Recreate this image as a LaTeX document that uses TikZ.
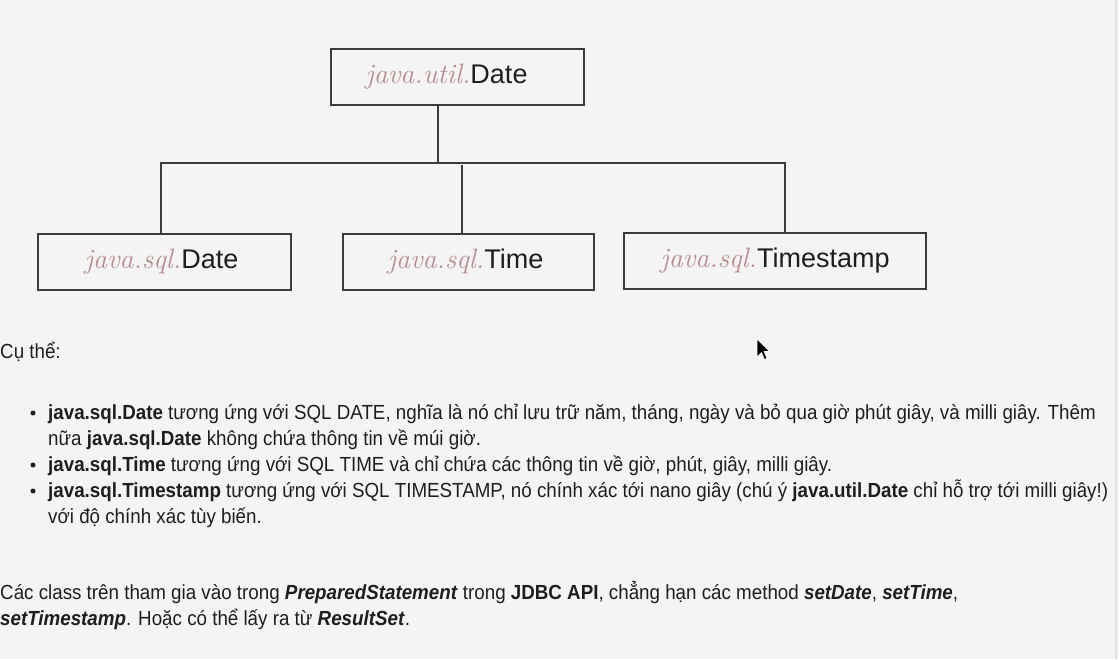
\documentclass[tikz,border=0pt]{standalone}
\usepackage{fontspec}
\newfontfamily\helv{Liberation Sans}[FakeStretch=0.92]
\newfontfamily\lab{Liberation Sans}
\definecolor{bg}{HTML}{F4F4F4}
\definecolor{boxline}{HTML}{3C3C3C}
\definecolor{pref}{HTML}{B88C90}
\definecolor{txt}{HTML}{1E1E1E}
\begin{document}
\begin{tikzpicture}[x=1pt,y=-1pt,
  clsbox/.style={draw=boxline,line width=1.3pt,fill=bg,minimum height=56pt,inner sep=0pt},
  conn/.style={draw=boxline,line width=1.3pt},
  bodytext/.style={anchor=base west,inner sep=0pt,text=txt,font=\helv\fontsize{20.4}{24}\selectfont},
  dot/.style={circle,fill=txt,inner sep=0pt,minimum size=5pt}]
\fill[bg] (0,0) rectangle (1119,659);
\useasboundingbox (0,0) rectangle (1119,659);
\draw[color=black!12,line width=2pt] (1116,0) -- (1116,659);
\newcommand{\cls}[2]{{\fontsize{28}{30}\selectfont\itshape\color{pref}#1}{\lab\fontsize{27}{30}\selectfont\color{txt}#2}}
% boxes
\node[clsbox,minimum width=253pt] (top) at (457.5,77) {\cls{java.util.}{Date}\hspace*{22pt}};
\node[clsbox,minimum width=253pt] (a) at (164.5,262) {\hspace*{0pt}\cls{java.sql.}{Date}\hspace*{6pt}};
\node[clsbox,minimum width=251pt] (b) at (468.5,262) {\cls{java.sql.}{Time}\hspace*{6pt}};
\node[clsbox,minimum width=302pt] (c) at (775,261) {\cls{java.sql.}{Timestamp}};
% connectors
\coordinate (j) at (438,163);
\coordinate (l) at (161,163);
\coordinate (r) at (785,163);
\coordinate (m) at (462,165);
\draw[conn] (top.south -| j) -- (j);
\draw[conn] (a.north -| l) -- (l) -- (r) -- (c.north -| r);
\draw[conn] (m) -- (b.north -| m);
% cursor
\filldraw[fill=black,draw=white,line width=0.6pt] (757,339) -- (757,357) -- (761.5,352.5) -- (764.5,359.5) -- (767,358.5) -- (764,351.5) -- (769.5,351.5) -- cycle;
% text
\node[bodytext] (t0) at (0,358) {Cụ thể:};
\node[dot] (d1) at (33,413) {};
\node[bodytext] (t1) at (48,419) {\textbf{java.sql.Date} tương ứng với SQL DATE, nghĩa là nó chỉ lưu trữ năm, tháng, ngày và bỏ qua giờ phút giây, và milli giây. Thêm};
\node[bodytext] (t2) at (48,445) {nữa \textbf{java.sql.Date} không chứa thông tin về múi giờ.};
\node[dot] (d2) at (33,465) {};
\node[bodytext] (t3) at (48,471) {\textbf{java.sql.Time} tương ứng với SQL TIME và chỉ chứa các thông tin về giờ, phút, giây, milli giây.};
\node[dot] (d3) at (33,491) {};
\node[bodytext] (t4) at (48,497) {\textbf{java.sql.Timestamp} tương ứng với SQL TIMESTAMP, nó chính xác tới nano giây (chú ý \textbf{java.util.Date} chỉ hỗ trợ tới milli giây!)};
\node[bodytext] (t5) at (48,523) {với độ chính xác tùy biến.};
\node[bodytext] (t6) at (0,599) {Các class trên tham gia vào trong \textbf{\textit{PreparedStatement}} trong \textbf{JDBC API}, chẳng hạn các method \textbf{\textit{setDate}}, \textbf{\textit{setTime}},};
\node[bodytext] (t7) at (0,625) {\textbf{\textit{setTimestamp}}. Hoặc có thể lấy ra từ \textbf{\textit{ResultSet}}.};
\end{tikzpicture}
\end{document}
